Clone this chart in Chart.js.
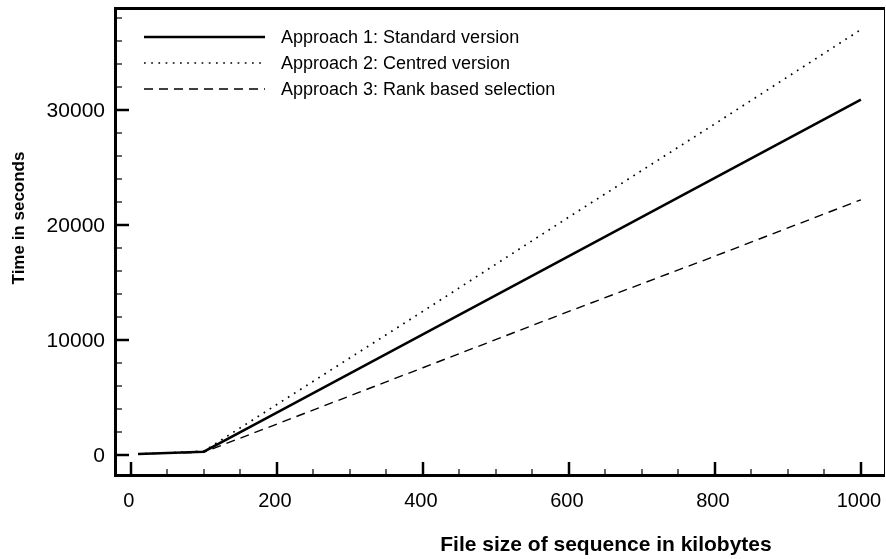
<!DOCTYPE html>
<html>
<head>
<meta charset="utf-8">
<script src="https://cdn.jsdelivr.net/npm/chart.js@4/dist/chart.umd.min.js"></script>
<style>
  html, body { margin: 0; padding: 0; background: #fff; }
  #wrap { width: 886px; height: 559px; }
</style>
</head>
<body>
<div id="wrap"><canvas id="c" width="886" height="559"></canvas></div>
<script>
// ---- data ----
const fileSizes = [10, 50, 100, 200, 400, 600, 800, 1000];
const approach1 = [100, 180, 300, 3700, 10500, 17300, 24100, 30900];
const approach2 = [100, 200, 350, 4400, 12500, 20700, 28800, 37000];
const approach3 = [100, 170, 260, 2700, 7600, 12500, 17300, 22200];
const seriesNames = ["Approach 1: Standard version", "Approach 2: Centred version", "Approach 3: Rank based selection"];
const xTickLabels = [0, 200, 400, 600, 800, 1000];
const yTickLabels = [0, 10000, 20000, 30000];
const xTitle = "File size of sequence in kilobytes";
const yTitle = "Time in seconds";

const FONT = '"Liberation Sans", Arial, Helvetica, sans-serif';

function pts(ys) { return fileSizes.map((x, i) => ({ x: x, y: ys[i] })); }

const styles = [
  { borderWidth: 2.5, borderDash: [] },
  { borderWidth: 1.7, borderDash: [1.7, 5.5] },
  { borderWidth: 1.4, borderDash: [9, 6] }
];

const datasets = [approach1, approach2, approach3].map((ys, i) => ({
  label: seriesNames[i],
  data: pts(ys),
  borderColor: '#000',
  backgroundColor: '#000',
  borderWidth: styles[i].borderWidth,
  borderDash: styles[i].borderDash,
  pointRadius: 0,
  tension: 0,
  fill: false
}));

const decor = {
  id: 'decor',
  afterDraw(chart) {
    const ctx = chart.ctx;
    const a = chart.chartArea;
    const xs = chart.scales.x, ys = chart.scales.y;
    ctx.save();
    ctx.strokeStyle = '#000';
    ctx.fillStyle = '#000';
    ctx.lineCap = 'butt';

    // frame
    ctx.lineWidth = 1;
    ctx.beginPath(); ctx.moveTo(a.right - 0.5, a.top); ctx.lineTo(a.right - 0.5, a.bottom); ctx.stroke();
    ctx.lineWidth = 3;
    ctx.beginPath();
    ctx.moveTo(a.left, a.top + 1.5); ctx.lineTo(a.right, a.top + 1.5);
    ctx.moveTo(a.left + 1.5, a.top); ctx.lineTo(a.left + 1.5, a.bottom);
    ctx.moveTo(a.left, a.bottom - 1.5); ctx.lineTo(a.right, a.bottom - 1.5);
    ctx.stroke();

    // y ticks (inward)
    for (let v = 0; v <= ys.max; v += 2000) {
      const p = Math.round(ys.getPixelForValue(v));
      const major = v % 10000 === 0;
      ctx.lineWidth = major ? 2.5 : 1.2;
      ctx.beginPath();
      ctx.moveTo(a.left, p); ctx.lineTo(a.left + (major ? 15 : 8), p);
      ctx.stroke();
    }
    // x ticks (inward)
    for (let v = 0; v <= xs.max; v += 50) {
      const p = Math.round(xs.getPixelForValue(v));
      const major = v % 200 === 0;
      ctx.lineWidth = major ? 2.5 : 1.2;
      ctx.beginPath();
      ctx.moveTo(p, a.bottom); ctx.lineTo(p, a.bottom - (major ? 15 : 8));
      ctx.stroke();
    }

    // tick labels
    ctx.font = '21px ' + FONT;
    ctx.textAlign = 'right';
    ctx.textBaseline = 'middle';
    yTickLabels.forEach(v => {
      ctx.fillText(String(v), a.left - 9, ys.getPixelForValue(v) + 1);
    });
    ctx.font = '20px ' + FONT;
    ctx.textAlign = 'center';
    xTickLabels.forEach(v => {
      ctx.fillText(String(v), xs.getPixelForValue(v) - 2, a.bottom + 24);
    });

    // axis titles
    ctx.font = 'bold 17px ' + FONT;
    ctx.textAlign = 'center';
    ctx.save();
    ctx.translate(19, 218);
    ctx.rotate(-Math.PI / 2);
    ctx.fillText(yTitle, 0, 0);
    ctx.restore();
    ctx.font = 'bold 21px ' + FONT;
    ctx.fillText(xTitle, 606, 545);

    // legend
    ctx.font = '18px ' + FONT;
    ctx.textAlign = 'left';
    chart.data.datasets.forEach((ds, i) => {
      const y = 37 + i * 26;
      ctx.lineWidth = ds.borderWidth;
      ctx.setLineDash(ds.borderDash || []);
      ctx.beginPath(); ctx.moveTo(144, y); ctx.lineTo(265, y); ctx.stroke();
      ctx.setLineDash([]);
      ctx.fillText(ds.label, 281, y + 1);
    });
    ctx.restore();
  }
};

new Chart(document.getElementById('c'), {
  type: 'line',
  data: { datasets: datasets },
  options: {
    responsive: false,
    animation: false,
    layout: { padding: { left: 114, right: 1, top: 7, bottom: 82 } },
    plugins: { legend: { display: false }, tooltip: { enabled: false } },
    scales: {
      x: { type: 'linear', min: -23, max: 1033, display: false },
      y: { type: 'linear', min: -1900, max: 38960, display: false }
    }
  },
  plugins: [decor]
});
</script>
</body>
</html>
